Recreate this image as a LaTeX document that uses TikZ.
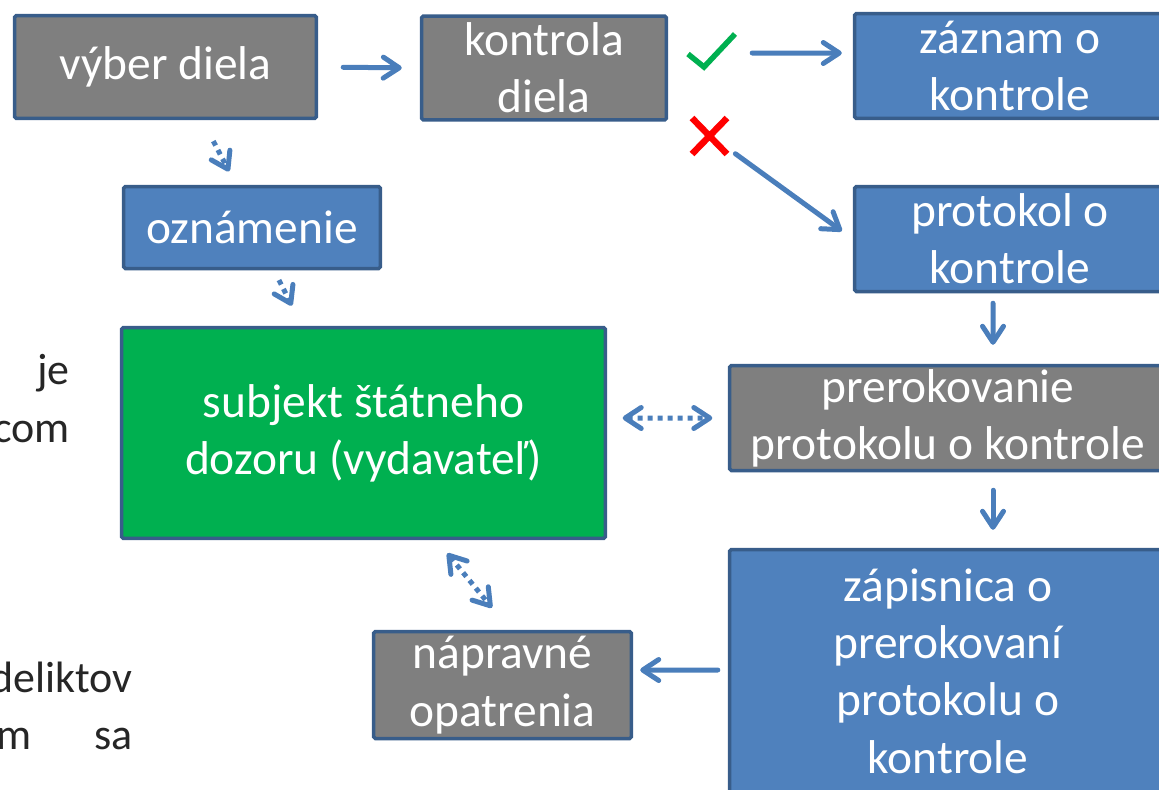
\documentclass[tikz,border=0pt]{standalone}
\usepackage{fontspec}
\setmainfont{Carlito}
\usetikzlibrary{positioning, arrows.meta, calc}

\definecolor{boxblue}{HTML}{4F81BD}
\definecolor{boxgray}{HTML}{7F7F7F}
\definecolor{boxedge}{HTML}{385D8A}
\definecolor{boxgreen}{HTML}{00B050}
\definecolor{arrowblue}{HTML}{4A7EBB}
\definecolor{okgreen}{HTML}{00B050}

\begin{document}
\begin{tikzpicture}[x=0.02cm, y=-0.02cm,
    >={Straight Barb[length=0.32cm, width=0.42cm, round]},
    box/.style={draw=boxedge, line width=0.07cm, rounded corners=1pt, text=white, align=center,
      font=\fontsize{27}{32.6}\selectfont, inner sep=0pt},
    graybox/.style={box, fill=boxgray},
    bluebox/.style={box, fill=boxblue},
    greenbox/.style={box, fill=boxgreen},
    flow/.style={draw=arrowblue, line width=0.1cm, line cap=round},
    link/.style={flow, line cap=butt, dash pattern=on 0.1cm off 0.1cm},
    lefttext/.style={text=black!85, font=\fontsize{25}{30}\selectfont, inner sep=0pt}]
  \clip (0,0) rectangle (1159,789);
  \fill[white] (0,0) rectangle (1159,789);

  % boxes
  \node[graybox, minimum width=6.04cm, minimum height=2.06cm] (vyber) at (165.5,67) {výber diela};
  \node[graybox, minimum width=4.9cm, minimum height=2.08cm] (kontrola) at (544,68) {kontrola\\diela};
  \node[bluebox, minimum width=6.22cm, minimum height=2.1cm] (zaznam) at (1010,66) {záznam o\\kontrole};
  \node[bluebox, minimum width=5.14cm, minimum height=1.64cm] (oznamenie) at (252,227.5) {oznámenie};
  \node[bluebox, minimum width=6.22cm, minimum height=2.1cm] (protokol) at (1010,239) {protokol o\\kontrole};
  \node[greenbox, minimum width=9.68cm, minimum height=4.22cm] (subjekt) at (363.5,433) {subjekt štátneho\\dozoru (vydavateľ)};
  \node[graybox, minimum width=8.74cm, minimum height=2.1cm] (prerokovanie) at (948,418) {prerokovanie\\protokolu o kontrole};
  \node[bluebox, minimum width=8.74cm, minimum height=4.86cm] (zapisnica) at (948,671) {zápisnica o\\prerokovaní\\protokolu o\\kontrole};
  \node[graybox, minimum width=5.16cm, minimum height=2.14cm] (napravne) at (502.5,685) {nápravné\\opatrenia};

  % cut text on the left
  \node[lefttext, anchor=base east] (je) at (70,384) {je};
  \node[lefttext, anchor=base east] (com) at (70,442) {com};
  \node[lefttext, anchor=base east] (deliktov) at (133,692) {deliktov};
  \node[lefttext, anchor=base east] (msa) at (133,749) {m\hspace{1.25cm}sa};

  % marks
  \draw[okgreen, line width=0.11cm] (688,54) -- (704,67) -- (735,34);
  \draw[red, line width=0.13cm] (692,118) -- (727,154) (727,118) -- (692,154);

  % solid arrows
  \draw[flow, ->, shorten <=0.5cm, shorten >=0.36cm] (vyber.east) -- (kontrola.west);
  \draw[flow, ->, shorten <=1.68cm, shorten >=0.22cm]
    ([yshift=0.3cm]kontrola.east) -- ([yshift=0.26cm]zaznam.west);
  \draw[flow, ->, shorten <=1.66cm, shorten >=0.27cm]
    ([yshift=-0.74cm]kontrola.east) -- (protokol.west);
  \draw[flow, ->, shorten <=0.2cm, shorten >=0.38cm]
    ([xshift=-0.34cm]protokol.south) -- ([xshift=0.9cm]prerokovanie.north);
  \draw[flow, ->, shorten <=0.36cm, shorten >=0.36cm]
    ([xshift=0.9cm]prerokovanie.south) -- ([xshift=0.9cm]zapisnica.north);
  \draw[flow, ->, shorten <=0.2cm, shorten >=0.14cm]
    ([yshift=0.02cm]zapisnica.west) -- ([yshift=0.3cm]napravne.east);

  % dotted arrows
  \draw[link, ->, shorten <=0.47cm, shorten >=0.3cm]
    ([xshift=0.74cm]vyber.south) -- ([xshift=-0.32cm]oznamenie.north);
  \draw[link, ->, shorten <=0.22cm, shorten >=0.45cm]
    ([xshift=0.44cm]oznamenie.south) -- ([xshift=-1.23cm]subjekt.north);
  \draw[link, <->, shorten <=0.31cm, shorten >=0.31cm]
    ([yshift=0.3cm]subjekt.east) -- (prerokovanie.west);
  \draw[link, <->, shorten <=0.34cm, shorten >=0.57cm]
    ([xshift=1.46cm]subjekt.south) -- ([xshift=0.15cm]napravne.north);
\end{tikzpicture}
\end{document}
